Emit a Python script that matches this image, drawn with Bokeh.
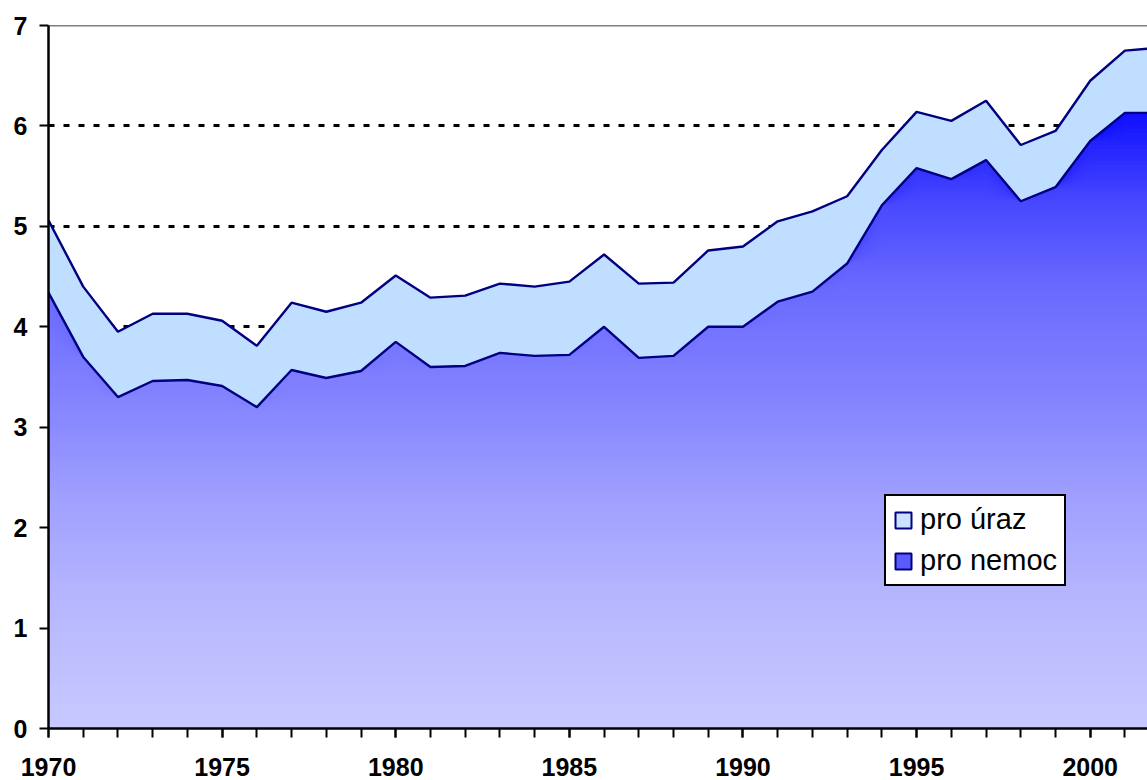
import numpy as np
from bokeh.plotting import figure
from bokeh.models import (SingleIntervalTicker, FixedTicker, Legend, LegendItem,
                          Span, Range1d)
from bokeh.embed import file_html
from bokeh.resources import INLINE

# ---- data ----
years = list(range(1970, 2003))
pro_nemoc = [4.34, 3.70, 3.30, 3.46, 3.47, 3.41, 3.20, 3.57, 3.49, 3.56,
             3.85, 3.60, 3.61, 3.74, 3.71, 3.72, 4.00, 3.69, 3.71, 4.00,
             4.00, 4.25, 4.35, 4.63, 5.21, 5.58, 5.47, 5.66, 5.25, 5.39,
             5.85, 6.13, 6.13]
pro_uraz = [0.72, 0.70, 0.65, 0.67, 0.66, 0.65, 0.61, 0.67, 0.66, 0.68,
            0.66, 0.69, 0.70, 0.69, 0.69, 0.73, 0.72, 0.74, 0.73, 0.76,
            0.80, 0.80, 0.80, 0.67, 0.55, 0.56, 0.58, 0.59, 0.56, 0.56,
            0.60, 0.62, 0.65]
series_names = ["pro úraz", "pro nemoc"]
y_ticks = [0, 1, 2, 3, 4, 5, 6, 7]

x = np.array(years, dtype=float)
lower = np.array(pro_nemoc)
upper = lower + np.array(pro_uraz)

FONT = "Liberation Sans"
NAVY = "#000080"

p = figure(width=1147, height=780,
           x_range=Range1d(1970, 2001.65), y_range=Range1d(0, 7),
           output_backend="svg", toolbar_location=None,
           min_border_left=48, min_border_right=0,
           min_border_top=25, min_border_bottom=52)
p.outline_line_color = None
p.background_fill_color = "white"
p.border_fill_color = "white"

# ---- gradient fill of the lower (pro nemoc) area, built from layered areas ----
top = lower.max()
stops_f = [0.0, 0.21, 0.37, 0.53, 0.72, 0.86, 1.0]
stops_c = [200, 182, 160, 132, 105, 70, 15]


def shade(v):
    c = int(round(np.interp(v / top, stops_f, stops_c)))
    return "#%02x%02xff" % (c, c)


dt = 0.04
thresholds = np.arange(top, 0, -dt)
zeros = np.zeros_like(lower)
for t in thresholds:
    p.varea(x=x, y1=zeros, y2=np.minimum(lower, t),
            fill_color=shade(max(t - dt / 2, 0)), fill_alpha=1)

# ---- upper band (pro úraz) ----
p.varea(x=x, y1=lower, y2=upper, fill_color="#C0DEFF", fill_alpha=1)

p.line(x, upper, line_color=NAVY, line_width=2.4)
p.line(x, lower, line_color=NAVY, line_width=2.4)

# ---- axes ----
p.xaxis.ticker = SingleIntervalTicker(interval=5, num_minor_ticks=5)
p.yaxis.ticker = FixedTicker(ticks=y_ticks)
for ax in (p.xaxis, p.yaxis):
    ax.axis_line_color = "black"
    ax.axis_line_width = 2.5
    ax.major_tick_line_color = "black"
    ax.major_tick_line_width = 2
    ax.major_tick_in = 0
    ax.major_tick_out = 9
    ax.major_label_text_font = FONT
    ax.major_label_text_font_style = "bold"
    ax.major_label_text_font_size = "25px"
    ax.major_label_text_color = "black"
p.xaxis.minor_tick_line_color = "black"
p.xaxis.minor_tick_line_width = 2
p.xaxis.minor_tick_in = 0
p.xaxis.minor_tick_out = 9
p.xaxis.major_label_standoff = 20
p.yaxis.minor_tick_line_color = None
p.yaxis.major_label_standoff = 12

p.xgrid.visible = False
p.ygrid.ticker = FixedTicker(ticks=y_ticks[1:])
p.ygrid.grid_line_color = "black"
p.ygrid.grid_line_width = 3
p.ygrid.grid_line_dash = "6 9"

p.add_layout(Span(location=y_ticks[-1], dimension="width",
                  line_color="black", line_width=1.5))

# ---- legend (proxy renderers placed outside the visible x range) ----
off = [years[0] - 1]
r_u = p.quad(left=off, right=off, top=[0], bottom=[0],
             fill_color="#C8E2FF", line_color=NAVY, line_width=2)
r_n = p.quad(left=off, right=off, top=[0], bottom=[0],
             fill_color="#5A5AFF", line_color=NAVY, line_width=2)
legend = Legend(items=[LegendItem(label=series_names[0], renderers=[r_u]),
                       LegendItem(label=series_names[1], renderers=[r_n])],
                location=(836, 142),
                border_line_color="black", border_line_width=2,
                border_line_alpha=1,
                background_fill_color="white", background_fill_alpha=1,
                label_text_font=FONT, label_text_font_size="29px",
                label_text_color="black",
                glyph_width=20, glyph_height=20, label_height=32,
                spacing=8, padding=7, label_standoff=7, margin=0)
p.add_layout(legend)

open("out.html", "w").write(file_html(p, INLINE))
